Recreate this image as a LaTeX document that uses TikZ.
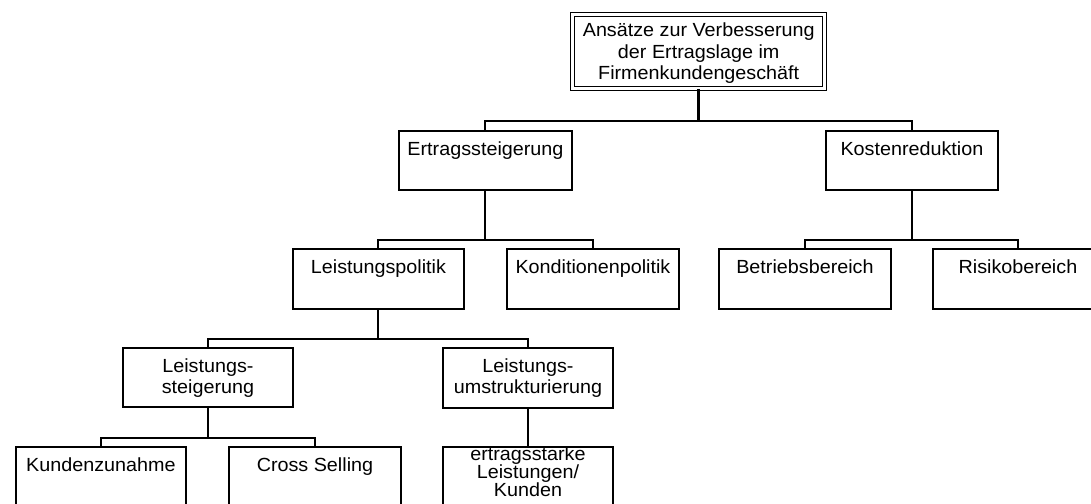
\documentclass[tikz,border=0pt]{standalone}
\usepackage{fontspec}
\setmainfont{Liberation Sans}[FakeStretch=1.04]
\newcommand{\boxtxt}[4]{\parbox[c][#2pt][t]{#1pt}{\lineskiplimit=-100pt\relax\centering\rule{0pt}{#3pt}#4\par}}
\begin{document}
\begin{tikzpicture}[x=1pt,y=-1pt,
  box/.style={draw, line width=1.9pt, inner sep=0pt, anchor=north west,
    font=\fontsize{19}{21.5}\selectfont},
  topbox/.style={box, line width=1.4pt, double=white, double distance=2.6pt},
  link/.style={line width=2pt},
  toplink/.style={line width=2.8pt}]
\useasboundingbox (0,0) rectangle (1091,503);
\clip (0,0) rectangle (1091,503);

\node[topbox] (top) at (572,14) {\boxtxt{252}{74}{22}{Ansätze zur Verbesserung\\der Ertragslage im\\Firmenkundengeschäft}};

\node[box] (ertrag) at (398,130) {\boxtxt{173}{59}{24.5}{Ertragssteigerung}};
\node[box] (kosten) at (825,130) {\boxtxt{172}{59}{24.5}{Kostenreduktion}};

\node[box] (leistpol) at (292,248) {\boxtxt{171}{60}{24.5}{Leistungspolitik}};
\node[box] (kondpol) at (506,248) {\boxtxt{172}{60}{24.5}{Konditionenpolitik}};
\node[box] (betrieb) at (718,248) {\boxtxt{172}{60}{24.5}{Betriebsbereich}};
\node[box] (risiko) at (932,248) {\boxtxt{170}{60}{24.5}{Risikobereich}};

\node[box] (leiststeig) at (122,347) {\boxtxt{170}{59}{24.5}{Leistungs-\\steigerung}};
\node[box] (leistumstr) at (442,347) {\boxtxt{170}{60}{24.5}{Leistungs-\\umstrukturierung}};

\node[box] (kunden) at (15,446) {\boxtxt{170}{59}{24.5}{Kundenzunahme}};
\node[box] (cross) at (228,446) {\boxtxt{172}{59}{24.5}{Cross Selling}};
\node[box] (starke) at (442,446) {\boxtxt{170}{59}{13}{\fontsize{19}{18}\selectfont ertragsstarke\\Leistungen/\\Kunden}};

\draw[toplink] (top.south) -- ++(0,32) coordinate (topbar);
\draw[link] (topbar) -| (ertrag.north);
\draw[link] (topbar) -| (kosten.north);

\draw[link] (ertrag.south) -- ++(0,49) coordinate (ebar);
\draw[link] (ebar) -| (leistpol.north);
\draw[link] (ebar) -| (kondpol.north);

\draw[link] (kosten.south) -- ++(0,49) coordinate (kbar);
\draw[link] (kbar) -| (betrieb.north);
\draw[link] (kbar) -| (risiko.north);

\draw[link] (leistpol.south) -- ++(0,29) coordinate (lbar);
\draw[link] (lbar) -| (leiststeig.north);
\draw[link] (lbar) -| (leistumstr.north);

\draw[link] (leiststeig.south) -- ++(0,30) coordinate (sbar);
\draw[link] (sbar) -| (kunden.north);
\draw[link] (sbar) -| (cross.north);

\draw[link] (leistumstr.south) -- (starke.north);
\end{tikzpicture}
\end{document}
